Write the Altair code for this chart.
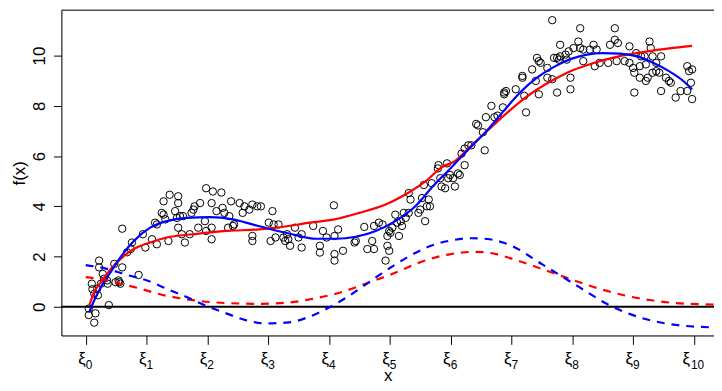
import altair as alt
import pandas as pd

# ---- scatter observations (x in knot units, y = f(x)) ----
pts_x = [0.05, 0.05, 0.14, 0.16, 0.10, 0.11, 0.14, 0.20, 0.19, 0.22, 0.22, 0.28, 0.25, 0.30, 0.36, 0.35,
         0.38, 0.47, 0.49, 0.55, 0.54, 0.57, 0.60, 0.60, 0.68, 0.74, 0.76, 0.87, 0.94, 0.98, 1.09, 1.17,
         1.28, 1.25, 1.28, 1.31, 1.17, 1.14, 1.36, 1.38, 1.52, 1.52, 1.47, 1.50, 1.55, 1.52, 1.60, 1.58,
         1.63, 1.71, 1.74, 1.77, 1.79, 1.88, 1.85, 1.98, 2.09, 2.23, 2.07, 1.96, 1.98, 2.07, 2.07, 2.15,
         2.25, 2.28, 2.36, 2.39, 2.42, 2.34, 2.44, 2.53, 2.58, 2.61, 2.69, 2.74, 2.82, 2.88, 2.74, 2.74,
         3.01, 3.07, 3.09, 3.04, 3.12,
         3.17, 3.25, 3.28, 3.33, 3.36, 3.31, 3.44, 3.50, 3.55, 3.55, 3.74, 3.85, 3.85, 3.90, 3.96, 4.09,
         4.09, 4.09, 4.15, 4.23, 4.08, 4.42, 4.44, 4.58, 4.63, 4.71, 4.74, 4.74, 4.82, 4.88, 4.93, 4.96,
         4.99, 4.96, 4.99, 5.01, 5.04, 5.09, 5.12, 5.15, 5.18, 5.23, 5.26, 5.20, 5.31, 5.34, 5.31, 5.47,
         5.50, 5.53, 5.61, 5.58, 5.64, 5.66, 5.56, 5.69, 5.80, 5.79, 5.83, 5.85, 5.91, 5.96, 5.99, 6.07,
         6.04, 5.94,
         6.12, 6.15, 6.23, 6.18, 6.23, 6.29, 6.34, 6.56, 6.53, 6.58, 6.67, 6.72, 6.45, 6.42, 6.77, 6.86,
         6.88, 6.88, 6.91, 7.07, 7.18, 7.18, 7.24, 7.21, 7.34, 7.40, 7.42, 7.45, 7.48, 7.45, 7.59, 7.59,
         7.67, 7.70, 7.75, 7.78, 7.80, 7.75, 7.80, 7.89, 7.94, 7.91, 7.97, 7.97, 8.02, 8.10, 8.13, 8.13,
         8.18, 8.18, 7.67, 8.29, 8.35, 8.37, 8.40, 8.45, 8.59, 8.62, 8.70, 8.70, 8.75, 8.73, 8.86, 8.94,
         8.94, 9.02, 9.02, 9.05, 9.11, 9.11, 9.13, 9.19, 9.21, 9.24, 9.27, 9.29, 9.32, 9.32, 9.38, 9.43,
         9.46, 9.46, 9.54, 9.59, 9.62, 9.70, 9.78, 9.89, 9.92, 9.97, 9.95, 9.89, 9.97, 9.21, 9.00, 9.38]
pts_y = [-0.07, -0.33, -0.63, -0.26, 0.92, 0.70, 0.52, 0.46, 0.72, 1.84, 1.57, 1.31, 0.92, 1.12, 0.92, 1.05,
         0.07, 1.71, 0.98, 0.98, 1.05, 0.92, 1.57, 3.11, 2.17, 2.30, 2.56, 1.27, 2.89, 2.36, 2.69, 2.49,
         4.20, 3.74, 3.67, 3.48, 3.28, 3.35, 2.62, 4.46, 4.40, 4.13, 3.81, 3.54, 3.61, 3.15, 3.61, 2.89,
         2.56, 2.89, 3.74, 3.87, 4.00, 4.13, 3.15, 4.72, 4.59, 4.55, 4.13, 3.41, 3.02, 3.15, 2.69, 3.81,
         3.94, 3.74, 3.61, 4.20, 3.22, 3.15, 3.28, 4.13, 3.74, 4.00, 3.87, 4.07, 4.00, 4.00, 2.82, 2.62,
         3.35, 3.81, 3.28, 2.62, 2.76,
         3.28, 2.76, 2.62, 2.69, 2.43, 2.89, 3.15, 2.76, 2.36, 2.89, 3.22, 2.43, 2.16, 3.02, 2.76, 2.82,
         2.10, 1.84, 3.08, 2.23, 4.04, 2.56, 2.62, 3.18, 2.30, 2.62, 2.30, 3.22, 3.35, 3.28, 1.84, 2.43,
         2.23, 2.82, 3.02, 2.95, 3.15, 3.67, 3.35, 2.82, 3.41, 3.74, 3.54, 3.22, 4.53, 4.27, 3.74, 3.74,
         3.87, 4.33, 4.00, 3.41, 4.27, 4.00, 4.85, 4.92, 5.64, 5.51, 5.12, 4.79, 4.72, 5.12, 5.25, 4.79,
         5.12, 5.71,
         5.31, 5.25, 5.64, 6.10, 6.30, 6.43, 6.43, 6.23, 6.95, 7.55, 8.00, 7.55, 7.22, 7.28, 7.61, 7.94,
         8.53, 8.46, 8.59, 8.66, 9.19, 9.12, 7.74, 8.40, 9.45, 8.99, 9.91, 9.78, 9.71, 8.46, 9.51, 9.12,
         9.06, 9.91, 9.91, 9.84, 9.97, 8.53, 10.43, 10.04, 10.17, 9.84, 9.12, 8.66, 10.30, 10.56, 11.09, 10.30,
         10.24, 9.78, 11.41, 10.24, 10.43, 9.58, 10.24, 9.71, 9.71, 10.43, 11.09, 10.63, 10.50, 9.78, 9.78, 10.37,
         9.71, 8.53, 9.32, 10.10, 9.58, 9.12, 9.97, 9.97, 8.99, 9.12, 10.56, 10.30, 9.97, 9.32, 9.38, 9.32,
         9.97, 8.59, 9.12, 8.99, 8.92, 8.33, 8.59, 9.58, 9.38, 9.45, 8.92, 8.59, 8.27, 9.65, 9.51, 9.71]

# ---- red solid fit ----
rs_x = [0.06, 0.14, 0.25, 0.41, 0.57, 0.79, 1.06, 1.33, 1.77, 2.31, 2.85, 3.14, 3.69, 4.09, 4.50, 4.93,
        5.31, 5.58, 5.85, 6.07, 6.34, 6.61, 6.88, 7.15, 7.42, 7.70, 7.97, 8.24, 8.51, 8.78, 9.05, 9.32,
        9.59, 9.97]
rs_y = [0.07, 0.59, 0.98, 1.50, 1.90, 2.30, 2.56, 2.76, 2.89, 3.02, 3.08, 3.15, 3.35, 3.48, 3.74, 4.07,
        4.55, 4.98, 5.55, 5.80, 6.42, 7.02, 7.62, 8.18, 8.65, 9.05, 9.38, 9.62, 9.82, 9.98, 10.10, 10.20,
        10.29, 10.39]

# ---- blue solid fit ----
bs_x = [0.06, 0.14, 0.25, 0.41, 0.57, 0.79, 1.06, 1.33, 1.66, 2.04, 2.42, 2.74, 3.01, 3.34, 3.79, 4.12,
        4.44, 4.77, 5.09, 5.42, 5.69, 5.96, 6.34, 6.61, 6.88, 7.15, 7.42, 7.70, 7.97, 8.24, 8.51, 8.78,
        9.05, 9.32, 9.59, 9.81, 9.97]
bs_y = [-0.20, 0.26, 0.79, 1.38, 1.97, 2.62, 3.15, 3.41, 3.54, 3.57, 3.48, 3.28, 3.11, 2.92, 2.71, 2.71,
        2.79, 3.02, 3.41, 4.00, 4.75, 5.42, 6.38, 7.05, 7.82, 8.55, 9.12, 9.55, 9.86, 10.04, 10.10, 10.08,
        9.98, 9.73, 9.38, 9.02, 8.66]

# ---- red dashed curve ----
rd_x = [0.0, 0.25, 0.57, 0.90, 1.22, 1.55, 1.88, 2.31, 2.85, 3.34, 3.69, 4.2, 4.6, 5.0, 5.6, 6.0,
        6.4, 6.75, 7.0, 7.8, 8.35, 8.85, 9.3, 9.7, 10.33]
rd_y = [1.18, 1.10, 0.92, 0.72, 0.50, 0.34, 0.23, 0.15, 0.12, 0.17, 0.30, 0.58, 0.92, 1.27, 1.86, 2.10,
        2.19, 2.10, 1.92, 1.25, 0.79, 0.46, 0.26, 0.15, 0.09]

# ---- blue dashed curve ----
bd_x = [0.0, 0.30, 0.68, 1.01, 1.33, 1.66, 1.98, 2.31, 2.63, 2.96, 3.34, 3.69, 4.0, 4.3, 4.8, 5.1,
        5.4, 5.7, 6.0, 6.35, 6.6, 7.0, 7.5, 8.05, 8.6, 9.15, 9.7, 10.33]
bd_y = [1.66, 1.54, 1.27, 1.05, 0.72, 0.39, 0.04, -0.26, -0.53, -0.66, -0.62, -0.38, -0.03, 0.39, 1.22, 1.70,
        2.12, 2.45, 2.64, 2.73, 2.70, 2.43, 1.70, 0.88, 0.08, -0.45, -0.72, -0.82]

# ---- knots / tick labels ----
knots = list(range(11))
knot_sym = ["ξ"] * 11
knot_sub = [str(k) for k in knots]
y_ticks = [0, 2, 4, 6, 8, 10]

XMIN, XMAX = -0.4, 10.33
YMIN, YMAX = -1.14, 11.81
W, H = 660, 329
FONT = "Liberation Sans"

xsc = alt.Scale(domain=[XMIN, XMAX], nice=False, zero=False)
ysc = alt.Scale(domain=[YMIN, YMAX], nice=False, zero=False)

x_axis = alt.Axis(values=knots, labels=False, tickSize=9, grid=False, title="x",
                  titleX=330, titleY=46, titleAlign="center", titleBaseline="alphabetic",
                  titleFontSize=17, titleFontWeight="normal", titleFont=FONT,
                  domainColor="black", tickColor="black", titleColor="black")
y_axis = alt.Axis(values=y_ticks, tickSize=8, grid=False, labelAngle=270, labelAlign="center",
                  labelBaseline="alphabetic", labelPadding=9, labelFontSize=17, labelFont=FONT,
                  labelColor="black", labelOverlap=False, title="f(x)", titleAngle=270,
                  titleX=-37, titleY=H / 2, titleAlign="center", titleBaseline="alphabetic",
                  titleFontSize=17, titleFontWeight="normal", titleFont=FONT, titleColor="black",
                  domainColor="black", tickColor="black")

pts_df = pd.DataFrame({"x": pts_x, "y": pts_y})
points = alt.Chart(pts_df).mark_point(shape="circle", filled=False, color="black",
                                      size=56, strokeWidth=1, opacity=1).encode(
    x=alt.X("x:Q", scale=xsc, axis=x_axis),
    y=alt.Y("y:Q", scale=ysc, axis=y_axis),
)

zero = alt.Chart(pd.DataFrame({"y": [0.0]})).mark_rule(color="black", strokeWidth=2).encode(
    y=alt.Y("y:Q", scale=ysc))
top = alt.Chart(pd.DataFrame({"y": [YMAX]})).mark_rule(color="black", strokeWidth=1).encode(
    y=alt.Y("y:Q", scale=ysc))


def curve(xs, ys, color, dashed):
    df = pd.DataFrame({"x": xs, "y": ys})
    kw = dict(color=color, strokeWidth=2.2, interpolate="monotone", clip=True)
    if dashed:
        kw.update(strokeDash=[8, 7])
    return alt.Chart(df).mark_line(**kw).encode(
        x=alt.X("x:Q", scale=xsc), y=alt.Y("y:Q", scale=ysc))


rs = curve(rs_x, rs_y, "#ff0000", False)
bs = curve(bs_x, bs_y, "#0000ff", False)
rd = curve(rd_x, rd_y, "#ff0000", True)
bd = curve(bd_x, bd_y, "#0000ff", True)

lab_df = pd.DataFrame({"x": knots, "sym": knot_sym, "sub": knot_sub})
one = lab_df[lab_df["x"] < 10]
two = lab_df[lab_df["x"] >= 10]


def labels(df, field, align, size, ypix, dx):
    return alt.Chart(df).mark_text(align=align, baseline="alphabetic", fontSize=size, font=FONT,
                                   color="black", dx=dx).encode(
        x=alt.X("x:Q", scale=xsc), y=alt.value(ypix), text=f"{field}:N")


lab1 = labels(one, "sym", "right", 17, 358, 0)
lab2 = labels(one, "sub", "left", 12, 363, 0)
lab3 = labels(two, "sym", "right", 17, 358, -4)
lab4 = labels(two, "sub", "left", 12, 363, -3)

chart = alt.layer(points, zero, rs, bs, rd, bd, top, lab1, lab2, lab3, lab4).properties(
    width=W, height=H,
    autosize=alt.AutoSizeParams(type="none"),
    padding={"left": 54, "top": 0, "right": 0, "bottom": 54},
).configure_view(stroke=None).configure(background="white")

chart.save("out.html", embed_options={"renderer": "svg", "actions": False})
